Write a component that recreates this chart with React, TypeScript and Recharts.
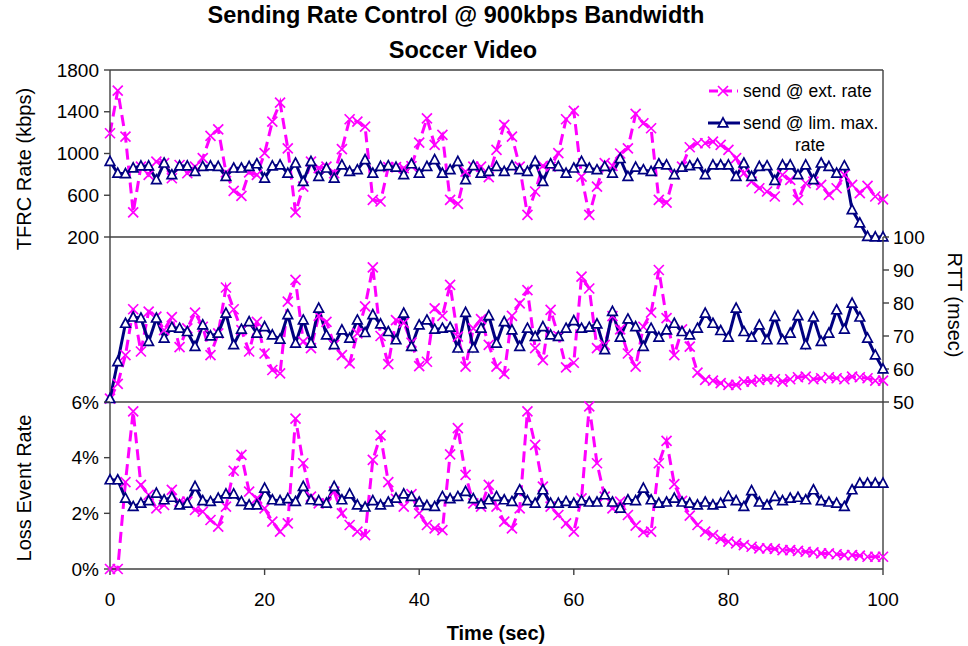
import React from 'react';
import { LineChart, Line, XAxis, YAxis } from 'recharts';

// ---- data (one sample per second, t = 0..100) ----
const extRate = [
  1194, 1602, 1162, 435, 875, 795, 923, 907, 763, 890,
  811, 875, 955, 1168, 1232, 820, 642, 594, 820, 795,
  1003, 1306, 1487, 1050, 435, 683, 923, 859, 875, 811,
  1041, 1328, 1306, 1258, 556, 540, 870, 870, 860, 880,
  1105, 1337, 1082, 1178, 556, 518, 827, 875, 875, 773,
  1034, 1274, 1162, 875, 412, 636, 881, 875, 1003, 1328,
  1408, 779, 412, 683, 907, 881, 1000, 1050, 1379, 1290,
  1242, 556, 530, 800, 875, 1060, 1098, 1098, 1114, 1082,
  1034, 955, 811, 731, 667, 636, 588, 795, 747, 556,
  715, 731, 700, 604, 667, 795, 700, 620, 690, 588,
  560,
];
const limRate = [
  923, 811, 805, 860, 880, 880, 747, 907, 795, 880,
  880, 827, 875, 880, 875, 779, 859, 859, 875, 900,
  763, 880, 890, 811, 907, 731, 923, 779, 859, 763,
  890, 827, 843, 939, 811, 875, 881, 868, 795, 900,
  811, 875, 939, 811, 843, 923, 747, 881, 811, 827,
  875, 827, 881, 843, 827, 923, 731, 900, 875, 811,
  859, 923, 859, 843, 875, 811, 950, 779, 868, 843,
  827, 900, 890, 795, 868, 881, 900, 795, 890, 890,
  890, 779, 907, 779, 875, 881, 741, 890, 890, 795,
  890, 747, 907, 875, 811, 881, 460, 333, 205, 200,
  200,
];
const extRtt = [
  51, 55.5, 64.2, 78.1, 65.3, 77.4, 75.9, 71.8, 75.7, 66.6,
  72.3, 77.1, 72.8, 64.2, 70.8, 84.7, 78.1, 71.8, 65.3, 74.3,
  64.7, 59.7, 58.7, 80.4, 87.0, 68.3, 66.3, 76.1, 74.3, 67.3,
  64.2, 61.7, 70.8, 79.0, 90.8, 70.0, 61.5, 74.8, 74.0, 68.0,
  60.9, 62.2, 78.4, 76.1, 85.5, 69.8, 60.7, 72.3, 75.1, 67.3,
  60.7, 58.5, 76.1, 79.9, 83.9, 66.3, 62.7, 77.9, 70.0, 60.5,
  61.9, 88.0, 84.4, 66.3, 67.3, 76.0, 72.0, 64.7, 60.7, 72.8,
  77.1, 90.0, 75.4, 64.2, 72.0, 66.8, 58.9, 56.7, 56.5, 55.7,
  55.2, 55.2, 56.2, 56.2, 56.7, 56.9, 56.9, 56.2, 56.9, 57.5,
  57.7, 56.9, 57.2, 57.5, 57.2, 56.9, 57.7, 57.5, 57.2, 56.5,
  56.5,
];
const limRtt = [
  51, 62.2, 73.8, 75.7, 75.4, 68.3, 75.4, 69.3, 72.6, 72.3,
  71.3, 66.8, 73.3, 70.0, 70.8, 76.9, 67.3, 72.0, 74.3, 70.8,
  72.8, 70.3, 69.0, 76.4, 67.8, 74.8, 67.8, 78.4, 70.3, 67.3,
  71.8, 69.3, 74.8, 71.0, 76.4, 73.6, 71.3, 68.8, 76.9, 66.8,
  73.3, 74.8, 72.0, 72.3, 72.6, 66.3, 77.1, 66.3, 72.3, 76.1,
  67.8, 74.3, 71.8, 66.8, 72.3, 69.8, 72.8, 70.3, 69.8, 72.3,
  74.6, 72.3, 72.6, 73.6, 65.8, 77.4, 69.6, 75.1, 72.8, 66.8,
  72.3, 69.6, 71.8, 73.8, 71.3, 70.3, 72.3, 76.9, 73.8, 71.6,
  69.6, 78.4, 71.3, 69.6, 73.3, 68.8, 75.9, 68.8, 70.8, 76.1,
  67.3, 75.7, 68.3, 70.8, 77.9, 72.0, 79.9, 75.7, 69.3, 64.2,
  60,
];
const extLoss = [
  0, 0, 3.12, 5.66, 3.02, 2.66, 2.18, 2.3, 2.84, 2.42,
  2.42, 2.12, 2.06, 1.76, 1.52, 2.24, 3.53, 4.1, 2.78, 2.54,
  2.18, 1.7, 1.34, 1.64, 5.4, 3.8, 2.6, 2.36, 2.36, 2.78,
  2.0, 1.58, 1.34, 1.22, 3.92, 4.8, 3.12, 2.52, 2.24, 2.69,
  2.0, 1.58, 1.46, 1.4, 4.12, 5.06, 3.38, 2.36, 2.24, 3.02,
  2.24, 1.7, 1.46, 2.18, 5.66, 4.46, 2.96, 2.24, 1.94, 1.64,
  1.34, 2.54, 5.84, 3.8, 2.6, 2.18, 2.42, 1.94, 1.56, 1.32,
  1.34, 3.8, 4.6, 3.05, 2.45, 1.92, 1.58, 1.34, 1.22, 1.08,
  0.98, 0.92, 0.86, 0.8, 0.74, 0.74, 0.72, 0.68, 0.68, 0.65,
  0.62, 0.6, 0.56, 0.56, 0.53, 0.5, 0.5, 0.48, 0.44, 0.44,
  0.44,
];
const limLoss = [
  3.2, 3.2, 2.54, 2.24, 2.36, 2.45, 2.72, 2.48, 2.57, 2.3,
  2.36, 2.96, 2.45, 2.42, 2.54, 2.69, 2.69, 2.42, 2.3, 2.3,
  2.9, 2.48, 2.45, 2.52, 2.42, 2.96, 2.48, 2.45, 2.36, 2.96,
  2.48, 2.69, 2.3, 2.22, 2.45, 2.3, 2.4, 2.54, 2.69, 2.6,
  2.4, 2.28, 2.24, 2.6, 2.52, 2.6, 2.78, 2.52, 2.33, 2.48,
  2.6, 2.48, 2.42, 2.84, 2.45, 2.36, 2.84, 2.36, 2.36, 2.42,
  2.36, 2.45, 2.4, 2.4, 2.66, 2.4, 2.18, 2.48, 2.45, 2.9,
  2.48, 2.36, 2.4, 2.54, 2.4, 2.36, 2.3, 2.4, 2.3, 2.36,
  2.6, 2.45, 2.24, 2.81, 2.4, 2.3, 2.6, 2.45, 2.54, 2.57,
  2.48, 2.84, 2.45, 2.4, 2.36, 2.24, 2.84, 3.08, 3.08, 3.08,
  3.08,
];

const timeTicks = [0, 20, 40, 60, 80, 100];
const rateTicks = [200, 600, 1000, 1400, 1800];
const rttTicks = [50, 60, 70, 80, 90, 100];
const lossTicks = [0, 2, 4, 6];

const seriesNames = ['send @ ext. rate', 'send @ lim. max.', 'rate'];
const chartTitle = ['Sending Rate Control @ 900kbps Bandwidth', 'Soccer Video'];

const data = extRate.map((v, i) => ({
  t: i,
  extRate: v,
  limRate: limRate[i],
  extRtt: extRtt[i],
  limRtt: limRtt[i],
  extLoss: extLoss[i],
  limLoss: limLoss[i],
}));

const MAGENTA = '#FF00FF';
const NAVY = '#000080';
const AXIS = '#404040';
const FONT = "Arial, 'Liberation Sans', sans-serif";
const tickStyle = { fill: '#000', fontSize: 19 };
const axisLine = { stroke: AXIS, strokeWidth: 1.4 };

const CrossDot = (props: any) => {
  const { cx, cy, key } = props;
  if (cx == null || cy == null) return null;
  const s = 5;
  return (
    <path
      key={key}
      d={`M${cx - s},${cy - s}L${cx + s},${cy + s}M${cx - s},${cy + s}L${cx + s},${cy - s}`}
      stroke={MAGENTA}
      strokeWidth={1.7}
      fill="none"
    />
  );
};

const TriDot = (props: any) => {
  const { cx, cy, key } = props;
  if (cx == null || cy == null) return null;
  return (
    <path
      key={key}
      d={`M${cx},${cy - 5.2}L${cx + 4.8},${cy + 3.8}L${cx - 4.8},${cy + 3.8}Z`}
      fill="#fff"
      stroke={NAVY}
      strokeWidth={1.7}
    />
  );
};

const extLine = (yId: string, key: string) => (
  <Line
    xAxisId="b"
    yAxisId={yId}
    dataKey={key}
    type="linear"
    stroke={MAGENTA}
    strokeWidth={3}
    strokeDasharray="11 6"
    dot={CrossDot}
    activeDot={false}
    isAnimationActive={false}
  />
);
const limLine = (yId: string, key: string) => (
  <Line
    xAxisId="b"
    yAxisId={yId}
    dataKey={key}
    type="linear"
    stroke={NAVY}
    strokeWidth={3}
    dot={TriDot}
    activeDot={false}
    isAnimationActive={false}
  />
);

const bottomX = (withTicks: boolean) =>
  withTicks ? (
    <XAxis
      xAxisId="b"
      dataKey="t"
      type="number"
      domain={[0, 100]}
      ticks={timeTicks}
      interval={0}
      height={40}
      tickSize={6}
      tickMargin={18}
      tick={tickStyle}
      axisLine={axisLine}
      tickLine={axisLine}
    />
  ) : (
    <XAxis
      xAxisId="b"
      dataKey="t"
      type="number"
      domain={[0, 100]}
      height={1}
      tick={false}
      tickLine={false}
      axisLine={axisLine}
    />
  );

export default function App() {
  return (
    <div style={{ position: 'absolute', left: 0, top: 0, width: 968, height: 646, background: '#fff', fontFamily: FONT }}>
      {/* Top panel: TFRC rate */}
      <div style={{ position: 'absolute', left: 0, top: 0 }}>
        <LineChart width={968} height={250} data={data} margin={{ top: 69, right: 0, bottom: 12, left: 0 }}>
          {bottomX(false)}
          <XAxis xAxisId="top" orientation="top" dataKey="t" type="number" domain={[0, 100]} height={1} tick={false} tickLine={false} axisLine={axisLine} />
          <YAxis yAxisId="l" domain={[200, 1800]} ticks={rateTicks} interval={0} width={110} tickSize={6} tickMargin={5} tick={tickStyle} axisLine={axisLine} tickLine={axisLine} />
          <YAxis yAxisId="r" orientation="right" domain={[0, 1]} width={85} tick={false} tickLine={false} axisLine={axisLine} />
          {extLine('l', 'extRate')}
          {limLine('l', 'limRate')}
        </LineChart>
      </div>
      {/* Middle panel: RTT */}
      <div style={{ position: 'absolute', left: 0, top: 200 }}>
        <LineChart width={968} height={215} data={data} margin={{ top: 37, right: 0, bottom: 12, left: 0 }}>
          {bottomX(false)}
          <YAxis yAxisId="l" domain={[0, 1]} width={110} tick={false} tickLine={false} axisLine={axisLine} />
          <YAxis yAxisId="r" orientation="right" domain={[50, 100]} ticks={rttTicks} interval={0} width={85} tickSize={6} tickMargin={4} tick={tickStyle} axisLine={axisLine} tickLine={axisLine} />
          {extLine('r', 'extRtt')}
          {limLine('r', 'limRtt')}
        </LineChart>
      </div>
      {/* Bottom panel: loss event rate */}
      <div style={{ position: 'absolute', left: 0, top: 380 }}>
        <LineChart width={968} height={266} data={data} margin={{ top: 22, right: 0, bottom: 37, left: 0 }}>
          {bottomX(true)}
          <YAxis yAxisId="l" domain={[0, 6]} ticks={lossTicks} interval={0} width={110} tickSize={6} tickMargin={5} tick={tickStyle} tickFormatter={(v: number) => `${v}%`} axisLine={axisLine} tickLine={axisLine} />
          <YAxis yAxisId="r" orientation="right" domain={[0, 1]} width={85} tick={false} tickLine={false} axisLine={axisLine} />
          {extLine('l', 'extLoss')}
          {limLine('l', 'limLoss')}
        </LineChart>
      </div>
      {/* Titles, axis titles and legend */}
      <svg width={968} height={646} style={{ position: 'absolute', left: 0, top: 0, pointerEvents: 'none' }}>
        <text x={456} y={15} dy="0.355em" textAnchor="middle" fontSize={23.5} fontWeight="bold" fill="#000">{chartTitle[0]}</text>
        <text x={463} y={50} dy="0.355em" textAnchor="middle" fontSize={23.5} fontWeight="bold" fill="#000">{chartTitle[1]}</text>
        <text transform="translate(24,169) rotate(-90)" dy="0.355em" textAnchor="middle" fontSize={20} fill="#000">TFRC Rate (kbps)</text>
        <text transform="translate(24,488) rotate(-90)" dy="0.355em" textAnchor="middle" fontSize={20} fill="#000">Loss Event Rate</text>
        <text transform="translate(955,305) rotate(90)" dy="0.355em" textAnchor="middle" fontSize={20} fill="#000">RTT (msec)</text>
        <text x={496} y={633} dy="0.355em" textAnchor="middle" fontSize={20} fontWeight="bold" fill="#000">Time (sec)</text>
        {/* legend */}
        <line x1={709} y1={91} x2={738} y2={91} stroke={MAGENTA} strokeWidth={3} strokeDasharray="9 5" />
        <CrossDot cx={723} cy={91} />
        <text x={743} y={91} dy="0.355em" fontSize={17.5} fill="#000">{seriesNames[0]}</text>
        <line x1={708} y1={123} x2={740} y2={123} stroke={NAVY} strokeWidth={3} />
        <TriDot cx={723} cy={123} />
        <text x={743} y={123} dy="0.355em" fontSize={17.5} fill="#000">{seriesNames[1]}</text>
        <text x={810} y={145} dy="0.355em" textAnchor="middle" fontSize={17.5} fill="#000">{seriesNames[2]}</text>
      </svg>
    </div>
  );
}
